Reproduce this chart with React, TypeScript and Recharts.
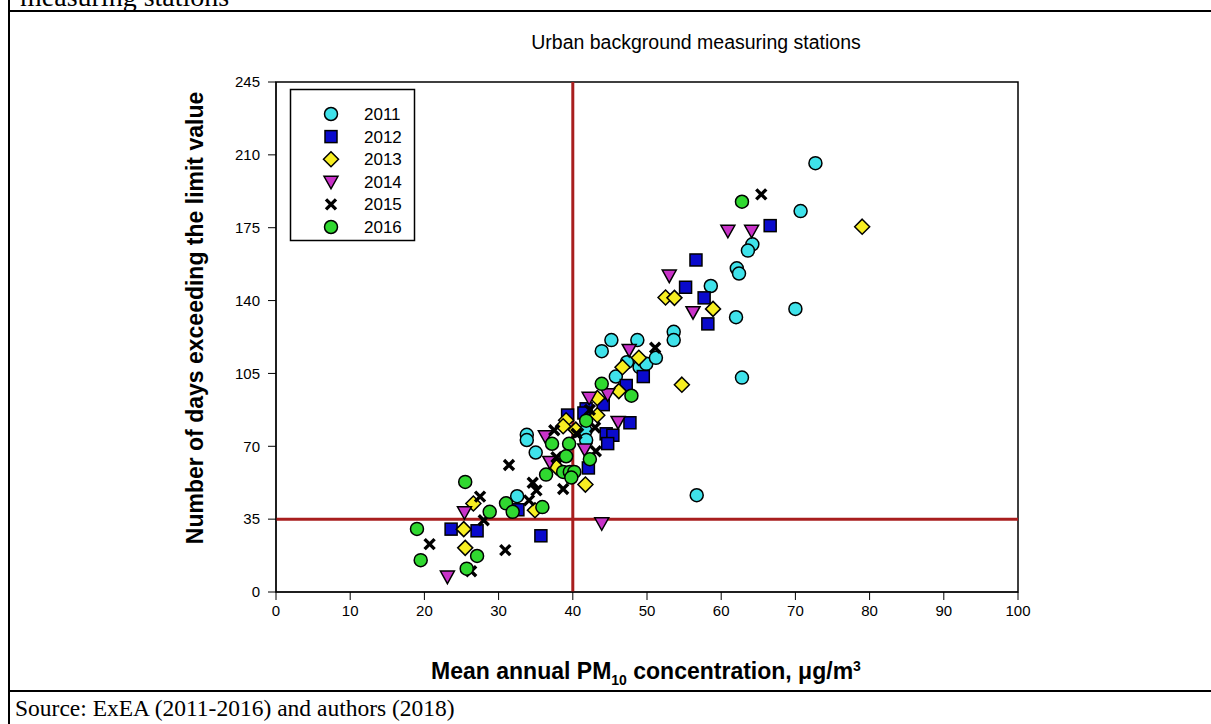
import React from "react"
import { ScatterChart, Scatter, XAxis, YAxis, ReferenceLine, ReferenceArea } from "recharts"

// [PM10 mean, days over limit] per year
const y2011: [number, number][] = [
  [72.7, 206], [70.7, 183], [70.0, 136], [64.2, 167], [63.6, 164], [62.1, 155.5], [62.4, 153],
  [62.0, 132], [58.6, 147], [53.6, 125], [53.6, 121], [45.2, 121], [48.7, 121], [43.9, 115.7],
  [47.3, 110.4], [49.0, 108], [49.9, 109.6], [51.2, 112.5], [45.8, 103.5], [41.7, 77.4],
  [41.8, 73], [33.8, 75.5], [33.8, 73], [35.0, 67], [32.5, 46], [56.7, 46.5], [62.8, 103],
]
const y2012: [number, number][] = [
  [66.6, 176], [56.6, 159.5], [55.2, 146.4], [57.7, 141.3], [58.2, 128.8], [49.5, 103.5],
  [47.2, 99.2], [44.1, 90], [41.8, 88], [41.5, 86], [39.3, 85], [47.7, 81.3], [44.5, 76],
  [45.4, 75.3], [44.7, 71.3], [42.1, 59.6], [32.6, 39.5], [23.6, 30.2], [27.1, 29.4], [35.7, 27],
]
const y2013: [number, number][] = [
  [79.0, 175.5], [52.5, 141.5], [53.7, 141.3], [58.9, 136], [54.7, 99.6], [48.9, 112.5],
  [46.7, 108], [46.2, 96.5], [43.3, 93.2], [43.3, 84.9], [39.1, 82.5], [38.7, 79.6], [40.4, 78],
  [37.8, 60], [41.7, 51.6], [26.6, 42.5], [34.9, 39.3], [25.3, 30.2], [25.5, 21.2],
]
const y2014: [number, number][] = [
  [60.9, 173.5], [64.1, 173.5], [53.0, 152], [56.2, 134.4], [47.6, 116.3], [44.7, 95],
  [42.2, 93.3], [46.1, 81.7], [41.6, 68.5], [36.3, 74.8], [36.9, 62.5], [25.4, 38.3],
  [23.1, 7.4], [43.9, 33],
]
const y2015: [number, number][] = [
  [65.4, 191], [51.1, 117.3], [37.5, 77.7], [43.1, 67.6], [43.0, 79], [42.3, 87.5], [40.5, 76],
  [37.8, 64.7], [31.4, 61], [34.6, 52.5], [35.1, 48.8], [38.7, 49.5], [34.1, 44], [27.5, 45.8],
  [28.0, 34.5], [20.7, 23], [30.9, 20.1], [26.3, 10],
]
const y2016: [number, number][] = [
  [62.8, 187.5], [43.9, 100], [47.9, 94.3], [41.8, 82.3], [37.2, 71.2], [39.5, 71.2],
  [39.1, 65.2], [42.3, 63.8], [36.4, 56.4], [38.7, 57.7], [39.6, 57.7], [40.2, 57.7],
  [39.8, 55], [25.5, 52.9], [31.0, 42.6], [28.8, 38.5], [31.9, 38.5], [35.9, 40.8],
  [19.0, 30.3], [19.5, 15.3], [27.1, 17.3], [25.7, 11.2],
]

const xTicks = [0, 10, 20, 30, 40, 50, 60, 70, 80, 90, 100]
const yTicks = [0, 35, 70, 105, 140, 175, 210, 245]
const limitDays = 35
const limitConc = 40

type Kind = "circle" | "square" | "diamond" | "tri" | "x"

const series: { name: string; pts: [number, number][]; kind: Kind; color: string }[] = [
  { name: "2011", pts: y2011, kind: "circle", color: "#3fe2ea" },
  { name: "2012", pts: y2012, kind: "square", color: "#0a0acc" },
  { name: "2013", pts: y2013, kind: "diamond", color: "#f7ee22" },
  { name: "2014", pts: y2014, kind: "tri", color: "#c832c8" },
  { name: "2015", pts: y2015, kind: "x", color: "#000" },
  { name: "2016", pts: y2016, kind: "circle", color: "#30d830" },
]

const FONT = "'Liberation Sans', Arial, sans-serif"
const SERIF = "'Liberation Serif', 'Times New Roman', serif"

function Mark({ cx, cy, kind, color }: { cx: number; cy: number; kind: Kind; color: string }) {
  const sw = 1.5
  if (kind === "circle") return <circle cx={cx} cy={cy} r={6.5} fill={color} stroke="#000" strokeWidth={sw} />
  if (kind === "square") return <rect x={cx - 6} y={cy - 6} width={12} height={12} fill={color} stroke="#000" strokeWidth={sw} />
  if (kind === "diamond")
    return <polygon points={`${cx},${cy - 7.5} ${cx + 7.5},${cy} ${cx},${cy + 7.5} ${cx - 7.5},${cy}`} fill={color} stroke="#000" strokeWidth={sw} />
  if (kind === "tri")
    return <polygon points={`${cx - 7},${cy - 5.5} ${cx + 7},${cy - 5.5} ${cx},${cy + 7}`} fill={color} stroke="#000" strokeWidth={sw} />
  return (
    <path d={`M${cx - 5},${cy - 5}L${cx + 5},${cy + 5}M${cx + 5},${cy - 5}L${cx - 5},${cy + 5}`} stroke="#000" strokeWidth={3.4} />
  )
}

export default function App() {
  return (
    <div style={{ position: "absolute", left: 0, top: 0, width: 1211, height: 724, background: "#fff", overflow: "hidden" }}>
      {/* page frame lines */}
      <div style={{ position: "absolute", left: 8, top: 0, width: 2, height: 724, background: "#000" }} />
      <div style={{ position: "absolute", left: 8, top: 10, width: 1203, height: 2, background: "#000" }} />
      <div style={{ position: "absolute", left: 8, top: 690, width: 1203, height: 2, background: "#000" }} />

      <ScatterChart width={1211} height={724} margin={{ top: 82, right: 193, left: 216, bottom: 102 }} style={{ position: "absolute", left: 0, top: 0 }}>
        <XAxis
          type="number"
          dataKey="x"
          domain={[0, 100]}
          ticks={xTicks}
          height={30}
          tickSize={8}
          tickMargin={5}
          stroke="#000"
          tick={{ fill: "#000", fontSize: 15, fontFamily: FONT }}
          allowDataOverflow
        />
        <YAxis
          type="number"
          dataKey="y"
          domain={[0, 245]}
          ticks={yTicks}
          width={60}
          tickSize={8}
          tickMargin={8}
          stroke="#000"
          tick={{ fill: "#000", fontSize: 15, fontFamily: FONT }}
          allowDataOverflow
        />
        <ReferenceArea x1={0} x2={100} y1={0} y2={245} fill="none" stroke="#000" strokeWidth={1.5} />
        {series.map((s) => (
          <Scatter
            key={s.name}
            name={s.name}
            data={s.pts.map(([x, y]) => ({ x, y }))}
            isAnimationActive={false}
            shape={(p: any) => <Mark cx={p.cx} cy={p.cy} kind={s.kind} color={s.color} />}
          />
        ))}
        <ReferenceLine x={limitConc} stroke="#a81e1e" strokeWidth={3} />
        <ReferenceLine y={limitDays} stroke="#a81e1e" strokeWidth={3} />
      </ScatterChart>

      <svg width={1211} height={724} style={{ position: "absolute", left: 0, top: 0, pointerEvents: "none" }}>
        <text x={20} y={6} fontFamily={SERIF} fontSize={28}>measuring stations</text>
        <text x={696} y={49} textAnchor="middle" fontFamily={FONT} fontSize={19.5}>Urban background measuring stations</text>
        <text transform="translate(203,318) rotate(-90)" textAnchor="middle" fontFamily={FONT} fontWeight="bold" fontSize={23}>
          Number of days exceeding the limit value
        </text>
        <text x={646} y={679} textAnchor="middle" fontFamily={FONT} fontWeight="bold" fontSize={23}>
          Mean annual PM<tspan dy={6} fontSize={14}>10</tspan>
          <tspan dy={-6}> concentration, μg/m</tspan>
          <tspan dy={-8} fontSize={14}>3</tspan>
        </text>
        <text x={15} y={716} fontFamily={SERIF} fontSize={23.5}>Source: ExEA (2011-2016) and authors (2018)</text>

        {/* legend */}
        <rect x={290.5} y={89.5} width={124} height={151} fill="#fff" stroke="#000" strokeWidth={1.5} />
        {series.map((s, i) => (
          <g key={s.name}>
            <Mark cx={331} cy={114 + i * 22.6} kind={s.kind} color={s.color} />
            <text x={364} y={114 + i * 22.6 + 6} fontFamily={FONT} fontSize={17}>{s.name}</text>
          </g>
        ))}
      </svg>
    </div>
  )
}
